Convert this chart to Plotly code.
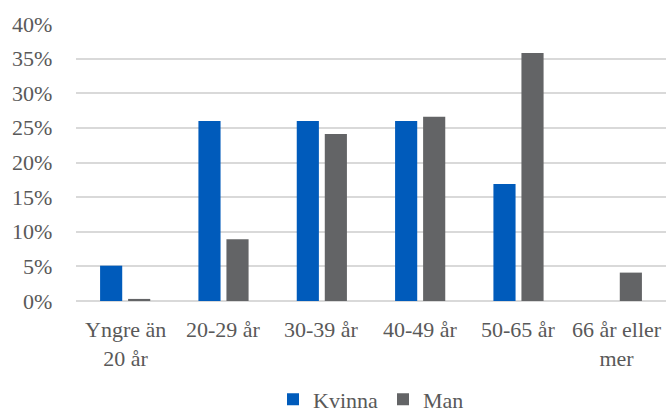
import plotly.graph_objects as go

categories = ["Yngre än<br>20 år", "20-29 år", "30-39 år", "40-49 år", "50-65 år", "66 år eller<br>mer"]
kvinna = [5.1, 26.0, 26.0, 26.0, 16.9, 0.0]
man = [0.3, 8.9, 24.1, 26.6, 35.8, 4.1]
y_ticks = [0, 5, 10, 15, 20, 25, 30, 35, 40]
y_tick_labels = ["0%", "5%", "10%", "15%", "20%", "25%", "30%", "35%", "40%"]

text_color = "#595959"
serif = dict(family="Times New Roman", size=22, color=text_color)

fig = go.Figure()
fig.add_trace(go.Bar(name="Kvinna", x=categories, y=kvinna, marker_color="#005BBB",
                     marker_line_width=0))
fig.add_trace(go.Bar(name="Man", x=categories, y=man, marker_color="#636466",
                     marker_line_width=0))

# axis labels placed as annotations on the axis scales
for val, lab in zip(y_ticks, y_tick_labels):
    fig.add_annotation(x=0, xref="paper", y=val, yref="y", text=lab, showarrow=False,
                       xanchor="right", yanchor="middle", xshift=-22, font=serif)
for cat in categories:
    fig.add_annotation(x=cat, xref="x", y=0, yref="paper", text=cat, showarrow=False,
                       xanchor="center", yanchor="top", yshift=-14, align="center",
                       font=serif)

fig.update_layout(
    width=672, height=416,
    margin=dict(l=76, r=6, t=24, b=115),
    barmode="group", bargap=0.43, bargroupgap=0.21,
    plot_bgcolor="white", paper_bgcolor="white",
    font=serif,
    legend=dict(orientation="h", x=0.5, xanchor="center", yref="container", y=0.04,
                yanchor="middle", traceorder="normal", font=serif),
    showlegend=True,
)
fig.update_yaxes(range=[0, 40], tickmode="array", tickvals=y_ticks, showticklabels=False,
                 automargin=False,
                 showgrid=True, gridcolor="#D9D9D9", gridwidth=1.5,
                 zeroline=True, zerolinecolor="#D9D9D9", zerolinewidth=1.5,
                 showline=False, ticks="")
fig.update_xaxes(showline=False, ticks="", showgrid=False, showticklabels=False,
                 automargin=False)

fig.write_html("out.html")
